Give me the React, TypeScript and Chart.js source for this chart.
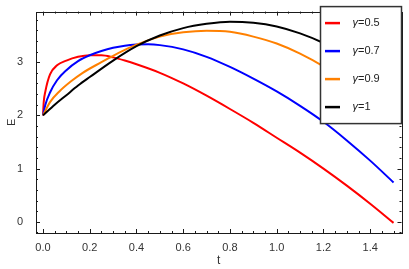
import React, { useEffect, useRef } from "react";
import { Chart, registerables } from "chart.js";

Chart.register(...registerables);

// t values and E values per series
const RED_T = [0, 0.003, 0.01, 0.03, 0.06, 0.1, 0.15, 0.2, 0.25, 0.3, 0.35, 0.4, 0.5, 0.6, 0.7, 0.8, 0.9, 1.0, 1.1, 1.2, 1.3, 1.4, 1.5];
const RED_E = [2.0, 2.25, 2.45, 2.77, 2.94, 3.03, 3.1, 3.13, 3.13, 3.09, 3.03, 2.96, 2.8, 2.6, 2.37, 2.12, 1.86, 1.58, 1.3, 1.0, 0.68, 0.34, -0.02];

const BLUE_T = [0, 0.01, 0.03, 0.06, 0.1, 0.15, 0.2, 0.25, 0.3, 0.35, 0.4, 0.45, 0.5, 0.6, 0.7, 0.8, 0.9, 1.0, 1.1, 1.2, 1.3, 1.4, 1.5];
const BLUE_E = [2.0, 2.2, 2.43, 2.66, 2.85, 3.02, 3.13, 3.21, 3.27, 3.31, 3.33, 3.335, 3.32, 3.24, 3.1, 2.91, 2.69, 2.45, 2.18, 1.88, 1.53, 1.15, 0.74];

const ORANGE_T = [0, 0.03, 0.07, 0.12, 0.17, 0.25, 0.3, 0.35, 0.4, 0.45, 0.5, 0.6, 0.7, 0.8, 0.9, 1.0, 1.1, 1.2, 1.3, 1.4, 1.5];
const ORANGE_E = [2.0, 2.25, 2.45, 2.64, 2.8, 3.0, 3.12, 3.23, 3.33, 3.41, 3.48, 3.56, 3.59, 3.57, 3.48, 3.35, 3.16, 2.92, 2.63, 2.29, 1.91];

const BLACK_T = [0, 0.05, 0.1, 0.15, 0.2, 0.3, 0.4, 0.5, 0.6, 0.7, 0.8, 0.9, 1.0, 1.1, 1.2, 1.3, 1.4, 1.5];
const BLACK_E = [2.0, 2.2, 2.38, 2.56, 2.72, 3.03, 3.3, 3.5, 3.64, 3.72, 3.76, 3.74, 3.67, 3.54, 3.36, 3.13, 2.86, 2.55];

const SERIES_LABELS = ["0.5", "0.7", "0.9", "1"];
const SERIES_COLORS = ["#ff0000", "#0000ff", "#ff8000", "#000000"];

const X_TICKS = [0, 0.2, 0.4, 0.6, 0.8, 1.0, 1.2, 1.4];
const Y_TICKS = [0, 1, 2, 3];
const X_MIN = -0.03;
const X_MAX = 1.534;
const Y_MIN = -0.21;
const Y_MAX = 3.95;

const FONT = "'Liberation Sans', Arial, sans-serif";

function toPoints(ts: number[], es: number[]) {
  return ts.map((t, i) => ({ x: t, y: es[i] }));
}

const framePlugin = {
  id: "frameTicks",
  afterDatasetsDraw(chart: any) {
    const { ctx, chartArea } = chart;
    const xs = chart.scales.x;
    const ys = chart.scales.y;
    const { left, right, top, bottom } = chartArea;
    ctx.save();
    ctx.strokeStyle = "#1a1a1a";
    ctx.lineWidth = 1;
    ctx.beginPath();
    for (let k = 0; k <= 30; k++) {
      const v = k * 0.05;
      const major = k % 4 === 0;
      const len = major ? 4 : 2;
      const px = Math.round(xs.getPixelForValue(v)) + 0.5;
      ctx.moveTo(px, bottom);
      ctx.lineTo(px, bottom - len);
      ctx.moveTo(px, top);
      ctx.lineTo(px, top + len);
    }
    for (let k = -1; k <= 19; k++) {
      const v = k * 0.2;
      if (v < Y_MIN || v > Y_MAX) continue;
      const major = k % 5 === 0;
      const len = major ? 4 : 2;
      const py = Math.round(ys.getPixelForValue(v)) + 0.5;
      ctx.moveTo(left, py);
      ctx.lineTo(left + len, py);
      ctx.moveTo(right, py);
      ctx.lineTo(right - len, py);
    }
    ctx.stroke();
    ctx.strokeRect(Math.round(left) + 0.5, Math.round(top) + 0.5, Math.round(right - left), Math.round(bottom - top));
    ctx.restore();
  },
  afterDraw(chart: any) {
    const { ctx, chartArea } = chart;
    const bx = chartArea.right - 81;
    const by = chartArea.top - 5;
    const bw = 81;
    const bh = 117;
    ctx.save();
    ctx.fillStyle = "#ffffff";
    ctx.fillRect(bx, by, bw, bh);
    ctx.strokeStyle = "#333333";
    ctx.lineWidth = 1.5;
    ctx.strokeRect(bx, by, bw, bh);
    chart.data.datasets.forEach((ds: any, i: number) => {
      const cy = by + 16.5 + i * 28;
      ctx.strokeStyle = ds.borderColor;
      ctx.lineWidth = 2.5;
      ctx.beginPath();
      ctx.moveTo(bx + 4.5, cy);
      ctx.lineTo(bx + 19.5, cy);
      ctx.stroke();
      ctx.fillStyle = "#222222";
      ctx.textBaseline = "middle";
      ctx.textAlign = "left";
      ctx.font = `italic 11px ${FONT}`;
      const tx = bx + 32;
      ctx.fillText("γ", tx, cy);
      const w = ctx.measureText("γ").width;
      ctx.font = `11px ${FONT}`;
      ctx.fillText("=" + SERIES_LABELS[i], tx + w, cy);
    });
    ctx.restore();
  },
};

export default function App() {
  const canvasRef = useRef<HTMLCanvasElement | null>(null);

  useEffect(() => {
    const canvas = canvasRef.current;
    if (!canvas) return;
    const seriesData = [
      toPoints(RED_T, RED_E),
      toPoints(BLUE_T, BLUE_E),
      toPoints(ORANGE_T, ORANGE_E),
      toPoints(BLACK_T, BLACK_E),
    ];
    const chart = new Chart(canvas, {
      type: "line",
      data: {
        datasets: seriesData.map((d, i) => ({
          label: "γ=" + SERIES_LABELS[i],
          data: d,
          borderColor: SERIES_COLORS[i],
          backgroundColor: SERIES_COLORS[i],
          borderWidth: 2,
          pointRadius: 0,
          fill: false,
          cubicInterpolationMode: "monotone" as const,
          order: 4 - i,
        })),
      },
      options: {
        responsive: false,
        animation: false,
        layout: { padding: { top: 9, right: 7.5, left: 0, bottom: 0 } },
        plugins: {
          legend: { display: false },
          tooltip: { enabled: false },
        },
        scales: {
          x: {
            type: "linear",
            min: X_MIN,
            max: X_MAX,
            grid: { display: false },
            border: { display: false },
            afterBuildTicks: (scale: any) => {
              scale.ticks = X_TICKS.map((v) => ({ value: v }));
            },
            afterFit: (scale: any) => {
              scale.height = 36;
            },
            ticks: {
              autoSkip: false,
              maxRotation: 0,
              padding: 0,
              color: "#333333",
              font: { family: FONT, size: 11 },
              callback: (v: any) => Number(v).toFixed(1),
            },
            title: {
              display: true,
              text: "t",
              color: "#333333",
              font: { family: FONT, size: 12 },
              padding: { top: 0, bottom: 1 },
            },
          },
          y: {
            type: "linear",
            min: Y_MIN,
            max: Y_MAX,
            grid: { display: false },
            border: { display: false },
            afterBuildTicks: (scale: any) => {
              scale.ticks = Y_TICKS.map((v) => ({ value: v }));
            },
            afterFit: (scale: any) => {
              scale.width = 36;
            },
            ticks: {
              padding: 5,
              color: "#333333",
              font: { family: FONT, size: 11 },
              callback: (v: any) => String(v),
            },
            title: {
              display: true,
              text: "E",
              color: "#333333",
              font: { family: FONT, size: 11 },
              padding: { top: 5, bottom: 0 },
            },
          },
        },
      },
      plugins: [framePlugin],
    });
    return () => chart.destroy();
  }, []);

  return (
    <div style={{ position: "fixed", left: 0, top: 0, width: 409, height: 269, background: "#ffffff" }}>
      <canvas ref={canvasRef} width={409} height={269} style={{ display: "block" }} />
    </div>
  );
}
